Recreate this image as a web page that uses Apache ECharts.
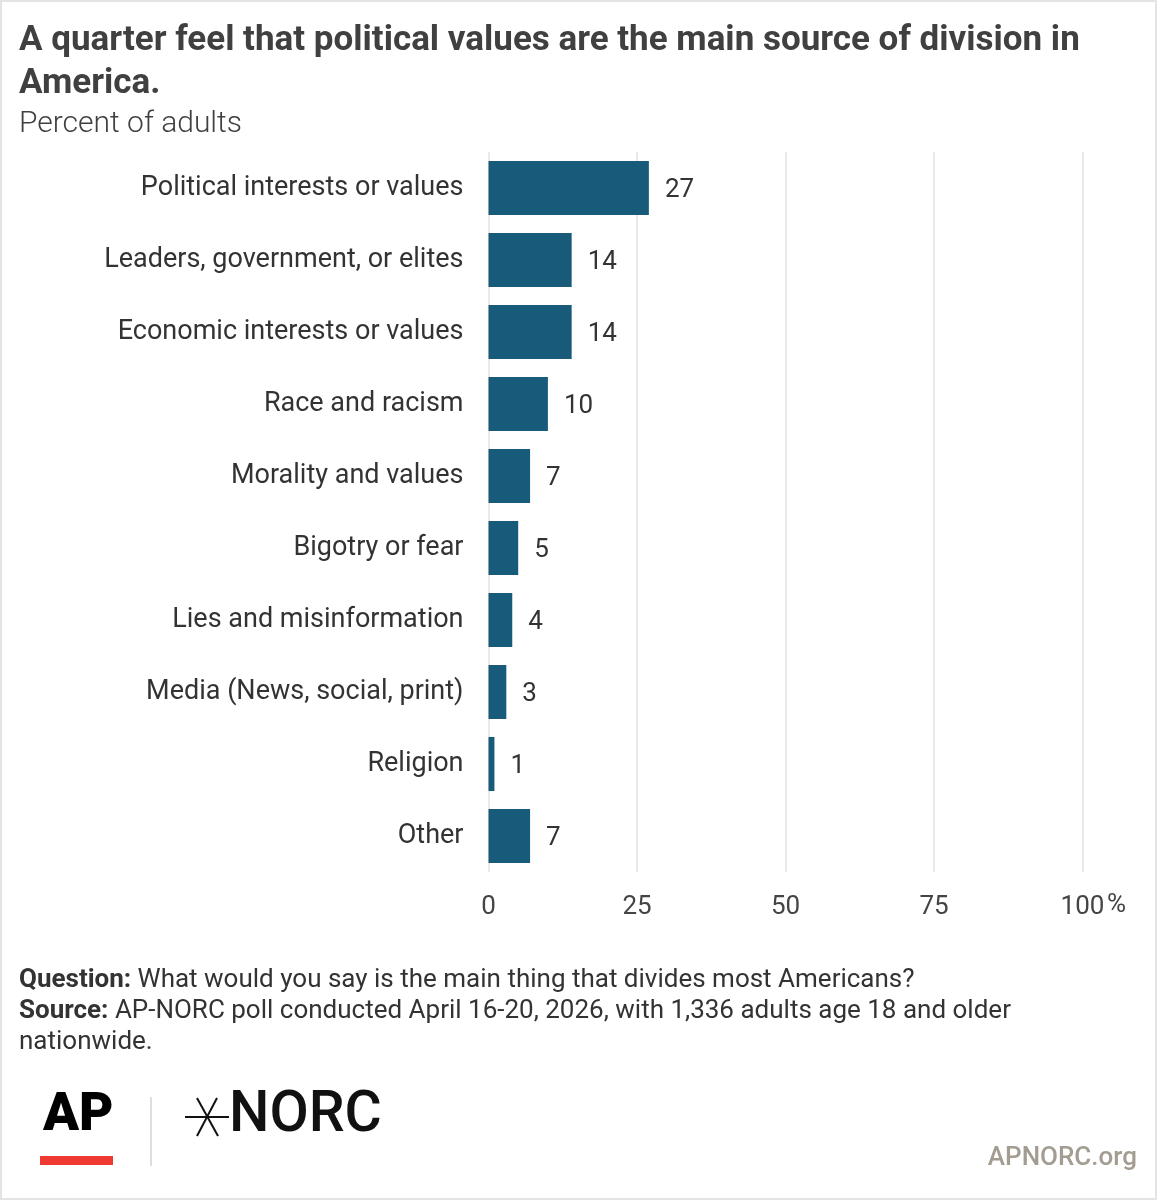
<!DOCTYPE html>
<html>
<head>
<meta charset="utf-8">
<script src="https://cdn.jsdelivr.net/npm/echarts@6/dist/echarts.min.js"></script>
<style>
  html, body { margin: 0; padding: 0; background: #fff; }
  #chart { width: 1157px; height: 1200px; }
</style>
</head>
<body>
<div id="chart"></div>
<script>
// categories, top to bottom as in the picture
const categories = [
  'Political interests or values',
  'Leaders, government, or elites',
  'Economic interests or values',
  'Race and racism',
  'Morality and values',
  'Bigotry or fear',
  'Lies and misinformation',
  'Media (News, social, print)',
  'Religion',
  'Other'
];
const percents = [27, 14, 14, 10, 7, 5, 4, 3, 1, 7];
const xTicks = [0, 25, 50, 75, 100];

const titleText = 'A quarter feel that political values are the main source of division in\nAmerica.';
const subtitleText = 'Percent of adults';

let chart = echarts.init(document.getElementById('chart'), null, { renderer: 'canvas' });

const FONT = 'Roboto, "Noto Sans", sans-serif';

var option = {
  animation: false,
  backgroundColor: '#fff',
  textStyle: { fontFamily: FONT },
  grid: {
    left: 488.5,
    right: 74.5,
    top: 152,
    bottom: 328,
    containLabel: false
  },
  xAxis: {
    type: 'value',
    min: xTicks[0],
    max: xTicks[xTicks.length - 1],
    interval: 25,
    axisLine: { show: false },
    axisTick: { show: false },
    splitLine: { show: true, lineStyle: { color: '#e2e2e2', width: 1.5 } },
    axisLabel: {
      margin: 22,
      fontSize: 26,
      color: '#444',
      fontFamily: FONT,
      formatter: function (v) { return String(v); }
    }
  },
  yAxis: {
    type: 'category',
    inverse: true,
    data: categories,
    axisLine: { show: false },
    axisTick: { show: false },
    axisLabel: {
      margin: 25,
      fontSize: 27,
      color: '#333',
      fontFamily: FONT,
      padding: [4, 0, 0, 0]
    }
  },
  series: [
    {
      name: 'Percent',
      type: 'bar',
      data: percents,
      barWidth: '75%',
      itemStyle: { color: '#185a79' },
      label: {
        show: true,
        position: 'right',
        distance: 16,
        offset: [0, 2],
        fontSize: 26,
        color: '#333',
        fontFamily: FONT
      }
    }
  ],
  graphic: [
    {
      type: 'rect',
      silent: true,
      shape: { x: 1, y: 1, width: 1155, height: 1198 },
      style: { fill: 'none', stroke: '#e4e4e4', lineWidth: 2 }
    },
    {
      type: 'text',
      left: 19, top: 20,
      style: {
        text: titleText,
        font: 'bold 35px ' + FONT,
        fill: '#404040',
        lineHeight: 43
      }
    },
    {
      type: 'text',
      left: 19, top: 109,
      style: {
        text: subtitleText,
        font: '300 30px ' + FONT,
        fill: '#404040'
      }
    },
    {
      type: 'text',
      left: 1107, top: 892,
      style: { text: '%', font: '26px ' + FONT, fill: '#444' }
    },
    {
      type: 'text',
      left: 19, top: 965,
      style: {
        text: '{b|Question:} What would you say is the main thing that divides most Americans?\n' +
              '{b|Source:} AP-NORC poll conducted April 16-20, 2026, with 1,336 adults age 18 and older\n' +
              'nationwide.',
        font: '26px ' + FONT,
        fill: '#333',
        lineHeight: 31,
        rich: {
          b: { fontWeight: 'bold', fontSize: 26, fill: '#333', fontFamily: FONT, lineHeight: 31 }
        }
      }
    },
    // AP logo
    {
      type: 'text',
      left: 43, top: 1090,
      style: { text: 'AP', font: '900 53px ' + FONT, fill: '#000' }
    },
    {
      type: 'rect',
      shape: { x: 40, y: 1156, width: 73, height: 9 },
      style: { fill: '#ef3933' }
    },
    {
      type: 'line',
      shape: { x1: 151, y1: 1097, x2: 151, y2: 1166 },
      style: { stroke: '#d6d3cf', lineWidth: 1.5 }
    },
    // NORC star
    {
      type: 'line',
      shape: { x1: 185, y1: 1117, x2: 229, y2: 1117 },
      style: { stroke: '#111', lineWidth: 2 }
    },
    {
      type: 'line',
      shape: { x1: 197, y1: 1098, x2: 218, y2: 1136 },
      style: { stroke: '#111', lineWidth: 2 }
    },
    {
      type: 'line',
      shape: { x1: 217, y1: 1098, x2: 197, y2: 1136 },
      style: { stroke: '#111', lineWidth: 2 }
    },
    {
      type: 'text',
      left: 229, top: 1088,
      style: { text: 'NORC', font: '500 57px ' + FONT, fill: '#111' }
    },
    {
      type: 'text',
      right: 20, top: 1145,
      style: { text: 'APNORC.org', font: '500 26px ' + FONT, fill: '#a39c90' }
    }
  ]
};

chart.setOption(option);
</script>
</body>
</html>
